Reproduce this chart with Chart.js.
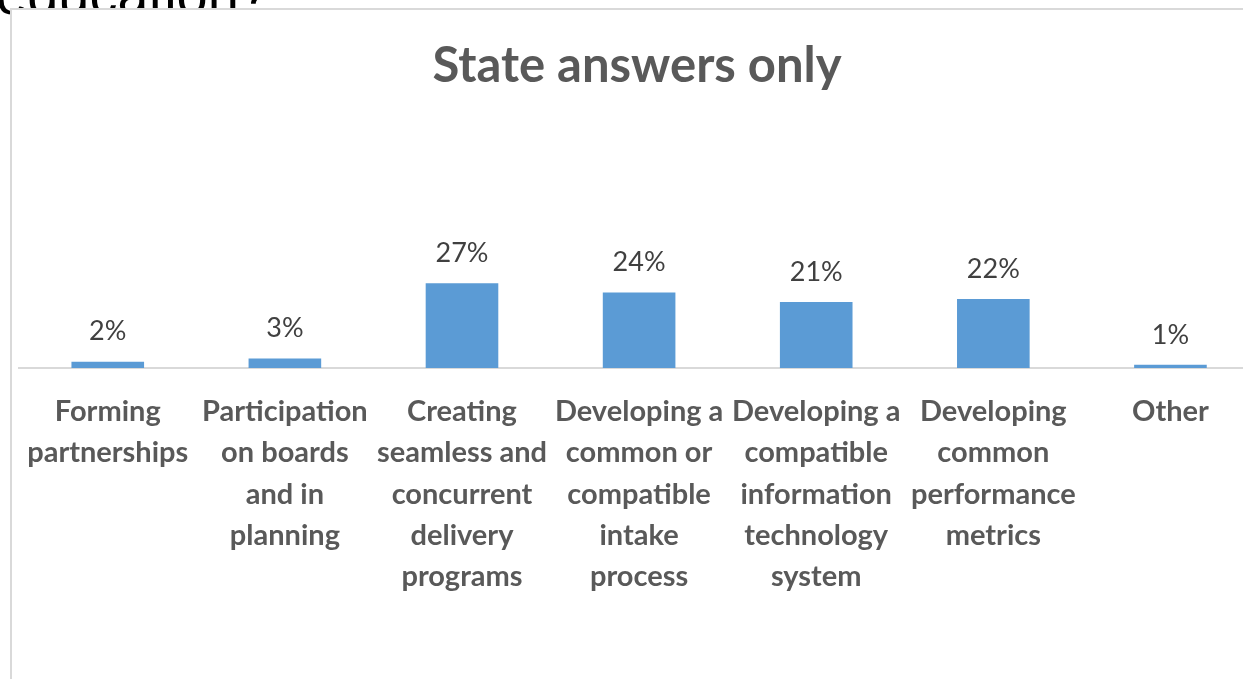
<!DOCTYPE html>
<html>
<head>
<meta charset="utf-8">
<script src="https://cdn.jsdelivr.net/npm/chart.js@4/dist/chart.umd.min.js"></script>
<style>
  html, body { margin: 0; padding: 0; background: #fff; overflow: hidden; width: 1243px; height: 679px; }
  #question { position: absolute; left: -4px; top: -38px; font: 56px "Liberation Sans", sans-serif; color: #000; white-space: nowrap; }
  #frame { position: absolute; left: 10px; top: 8px; width: 1260px; height: 700px; border-left: 2px solid #d9d9d9; border-top: 2px solid #d9d9d9; background: #fff; }
  #wrap { position: absolute; left: 0; top: 0; width: 1247px; height: 679px; }
</style>
</head>
<body>
<div id="question">education?</div>
<div id="frame">
  <div id="wrap"><canvas id="chart"></canvas></div>
</div>
<script>
const categories = [
  ['Forming', 'partnerships'],
  ['Participation', 'on boards', 'and in', 'planning'],
  ['Creating', 'seamless and', 'concurrent', 'delivery', 'programs'],
  ['Developing a', 'common or', 'compatible', 'intake', 'process'],
  ['Developing a', 'compatible', 'information', 'technology', 'system'],
  ['Developing', 'common', 'performance', 'metrics'],
  ['Other']
];
const stateShares = [2, 3, 27, 24, 21, 22, 1];

const labelColor = '#595959';

// draws the percentage above each bar
const valueLabels = {
  id: 'valueLabels',
  afterDatasetsDraw(chart) {
    const ctx = chart.ctx;
    const meta = chart.getDatasetMeta(0);
    ctx.save();
    ctx.font = '27px Lato, sans-serif';
    ctx.fillStyle = '#404040';
    ctx.textAlign = 'center';
    ctx.textBaseline = 'middle';
    meta.data.forEach((bar, i) => {
      ctx.fillText(stateShares[i] + '%', bar.x, bar.y - 30);
    });
    ctx.restore();
  }
};

new Chart(document.getElementById('chart').getContext('2d'), {
  type: 'bar',
  data: {
    labels: categories,
    datasets: [{
      label: 'State answers only',
      data: stateShares,
      backgroundColor: '#5b9bd5',
      borderWidth: 0,
      categoryPercentage: 1,
      barPercentage: 0.41
    }]
  },
  options: {
    responsive: true,
    maintainAspectRatio: false,
    animation: false,
    layout: { padding: { left: 3, right: 0, top: 0, bottom: 0 } },
    plugins: {
      legend: { display: false },
      tooltip: { enabled: false },
      title: {
        display: true,
        text: 'State answers only',
        color: labelColor,
        font: { family: 'Lato, sans-serif', size: 49, weight: 'bold' },
        padding: { top: 27, bottom: 24 }
      }
    },
    scales: {
      x: {
        grid: { display: false },
        border: { display: true, color: '#d9d9d9', width: 2 },
        ticks: {
          color: labelColor,
          font: { family: 'Lato, sans-serif', size: 29, weight: 'bold', lineHeight: 1.425 },
          padding: 15,
          maxRotation: 0,
          autoSkip: false
        },
        afterFit(scale) { scale.height = 321; }
      },
      y: {
        display: false,
        min: 0,
        max: 79
      }
    }
  },
  plugins: [valueLabels]
});
</script>
</body>
</html>
